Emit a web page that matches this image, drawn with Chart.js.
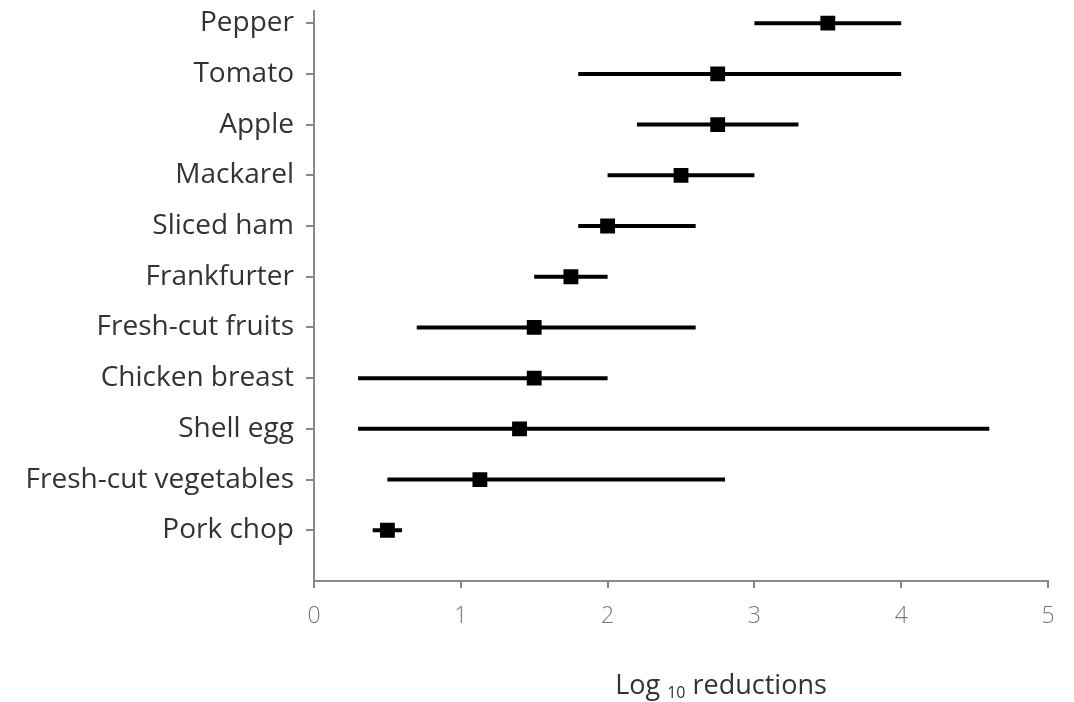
<!DOCTYPE html>
<html>
<head>
<meta charset="utf-8">
<script src="https://cdn.jsdelivr.net/npm/chart.js@4.4.1/dist/chart.umd.min.js"></script>
<style>
  html, body { margin: 0; padding: 0; background: #fff; }
  #wrap { width: 1074px; height: 702px; position: relative; }
</style>
</head>
<body>
<div id="wrap"><canvas id="forest"></canvas></div>
<script>
// foods, top to bottom as they appear
const foods = ["Pepper", "Tomato", "Apple", "Mackarel", "Sliced ham", "Frankfurter",
  "Fresh-cut fruits", "Chicken breast", "Shell egg", "Fresh-cut vegetables", "Pork chop"];
// mean log10 reduction
const meanLog = [3.5, 2.75, 2.75, 2.5, 2.0, 1.75, 1.5, 1.5, 1.4, 1.13, 0.5];
// range of reported reductions
const lowLog = [3.0, 1.8, 2.2, 2.0, 1.8, 1.5, 0.7, 0.3, 0.3, 0.5, 0.4];
const highLog = [4.0, 4.0, 3.3, 3.0, 2.6, 2.0, 2.6, 2.0, 4.6, 2.8, 0.6];
const xTicks = [0, 1, 2, 3, 4, 5];

const n = foods.length;
const rowOf = i => n - i; // Pepper sits on 11, Pork chop on 1

const datasets = [];
foods.forEach((f, i) => {
  datasets.push({
    type: "line",
    label: f + " range",
    data: [{ x: lowLog[i], y: rowOf(i) }, { x: highLog[i], y: rowOf(i) }],
    borderColor: "#000",
    borderWidth: 4,
    borderCapStyle: "butt",
    pointRadius: 0,
    order: 2
  });
});
datasets.push({
  type: "scatter",
  label: "Mean",
  data: meanLog.map((m, i) => ({ x: m, y: rowOf(i) })),
  pointStyle: "rect",
  pointRadius: 10.5,
  backgroundColor: "#000",
  borderColor: "#000",
  borderWidth: 0,
  order: 1
});

// axis title with a subscript
const xTitle = {
  id: "xTitle",
  afterDraw(chart) {
    const ctx = chart.ctx;
    const y = 686;
    ctx.save();
    ctx.fillStyle = "#333";
    ctx.textBaseline = "middle";
    const big = "27px 'Open Sans', sans-serif";
    const small = "16px 'Open Sans', sans-serif";
    ctx.font = big;
    const w1 = ctx.measureText("Log ").width;
    const w3 = ctx.measureText(" reductions").width;
    ctx.font = small;
    const w2 = ctx.measureText("10").width;
    let x = 721 - (w1 + w2 + w3) / 2;
    ctx.textAlign = "left";
    ctx.font = big;
    ctx.fillText("Log ", x, y);
    x += w1;
    ctx.font = small;
    ctx.fillText("10", x, y + 7);
    x += w2;
    ctx.font = big;
    ctx.fillText(" reductions", x, y);
    ctx.restore();
  }
};

new Chart(document.getElementById("forest"), {
  data: { datasets: datasets },
  plugins: [xTitle],
  options: {
    responsive: true,
    maintainAspectRatio: false,
    animation: false,
    layout: { padding: { top: 9, right: 26, left: 0, bottom: 0 } },
    plugins: {
      legend: { display: false },
      tooltip: { enabled: false }
    },
    scales: {
      x: {
        type: "linear",
        min: 0,
        max: 5,
        afterBuildTicks: s => { s.ticks = xTicks.map(v => ({ value: v })); },
        afterFit: s => { s.height = 121; s.paddingLeft = 0; s.paddingRight = 0; },
        grid: { drawOnChartArea: false, drawTicks: true, tickLength: 7, color: "#888", lineWidth: 2 },
        border: { display: true, color: "#888", width: 2 },
        ticks: {
          color: "#777",
          padding: 15,
          font: { family: "'Open Sans', sans-serif", size: 23, weight: "300" }
        }
      },
      y: {
        type: "linear",
        min: 0,
        max: 11.25,
        afterBuildTicks: s => { s.ticks = foods.map((f, i) => ({ value: rowOf(i) })); },
        afterFit: s => { s.width = 314; s.paddingTop = 0; s.paddingBottom = 0; },
        grid: { drawOnChartArea: false, drawTicks: true, tickLength: 8, color: "#888", lineWidth: 2 },
        border: { display: true, color: "#888", width: 2 },
        ticks: {
          color: "#333",
          padding: 12,
          callback: v => foods[n - v],
          font: { family: "'Open Sans', sans-serif", size: 28 }
        }
      }
    }
  }
});
</script>
</body>
</html>
